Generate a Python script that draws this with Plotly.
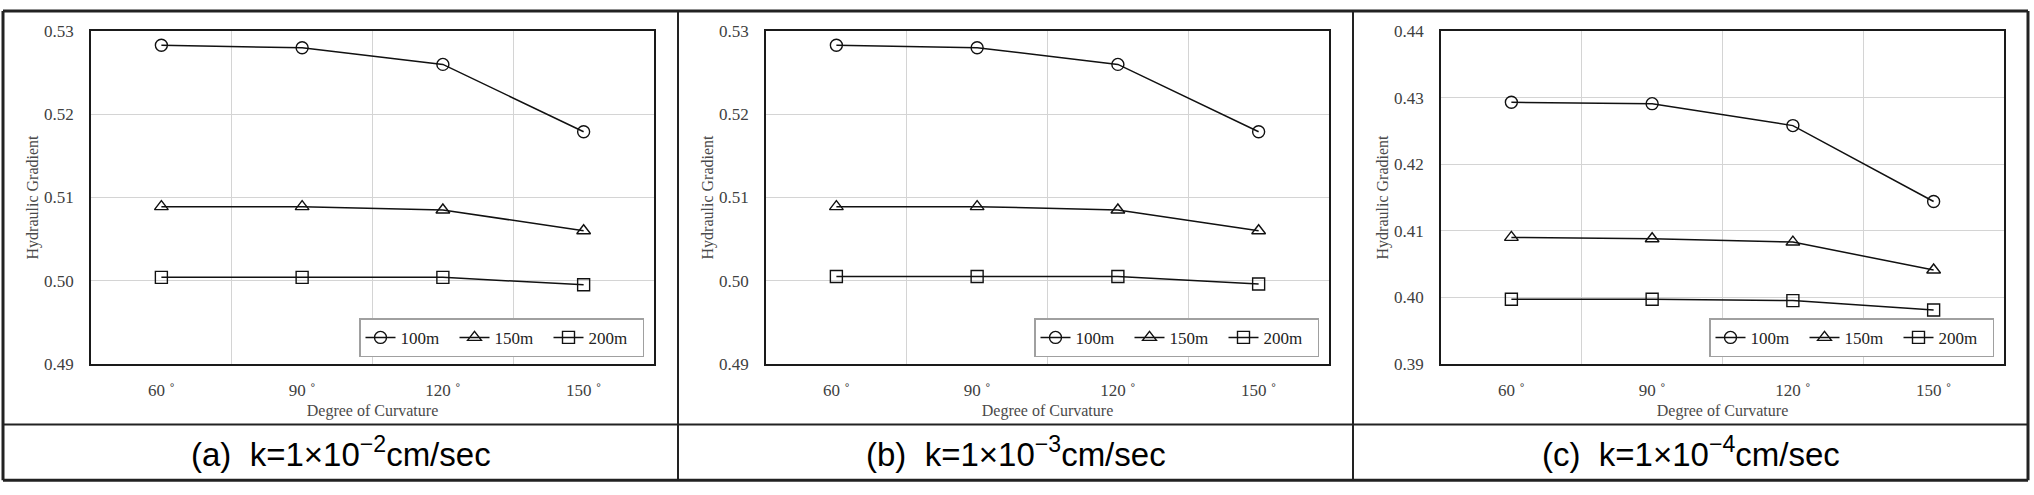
import plotly.graph_objects as go

W, H = 2034, 495

categories = ["60 ˚", "90 ˚", "120 ˚", "150 ˚"]
series_names = ["100m", "150m", "200m"]
symbols = ["circle-open", "triangle-up-open", "square-open"]

a_100 = [0.5283, 0.5280, 0.5260, 0.5179]
a_150 = [0.5089, 0.5089, 0.5085, 0.5060]
a_200 = [0.5004, 0.5004, 0.5004, 0.4995]

b_100 = [0.5283, 0.5280, 0.5260, 0.5179]
b_150 = [0.5089, 0.5089, 0.5085, 0.5060]
b_200 = [0.5005, 0.5005, 0.5005, 0.4996]

c_100 = [0.4293, 0.4291, 0.4258, 0.4144]
c_150 = [0.4090, 0.4088, 0.4083, 0.4041]
c_200 = [0.3997, 0.3997, 0.3995, 0.3981]

yticks_ab = [0.49, 0.50, 0.51, 0.52, 0.53]
yticks_c = [0.39, 0.40, 0.41, 0.42, 0.43, 0.44]

captions = ["(a)  k=1×10<sup>−2</sup>cm/sec",
            "(b)  k=1×10<sup>−3</sup>cm/sec",
            "(c)  k=1×10<sup>−4</sup>cm/sec"]

panels = [
    dict(series=[a_100, a_150, a_200], yticks=yticks_ab),
    dict(series=[b_100, b_150, b_200], yticks=yticks_ab),
    dict(series=[c_100, c_150, c_200], yticks=yticks_c),
]

# layout geometry (pixels)
panel_left = [3, 678, 1353]
panel_w = 675
plot_l_off, plot_r_off = 88, 24
plot_top, plot_bot = 23, 369
leg_right_off = 10
leg_mid = 342

SERIF = "Liberation Serif"
TXT = "#404040"

xpos = list(range(len(categories)))

fig = go.Figure()
layout = dict(width=W, height=H, margin=dict(l=0, r=0, t=0, b=0),
              paper_bgcolor="white", plot_bgcolor="white", showlegend=True)

shapes = []
annotations = []
for i, p in enumerate(panels):
    n = "" if i == 0 else str(i + 1)
    xa, ya = "x" + n, "y" + n
    leg = "legend" + n
    for s, name, sym in zip(p["series"], series_names, symbols):
        fig.add_trace(go.Scatter(
            x=xpos, y=s, name=name, mode="lines+markers",
            xaxis=xa, yaxis=ya, legend=leg,
            line=dict(color="#111111", width=1.5),
            marker=dict(symbol=sym, size=12, color="#111111",
                        line=dict(width=1.4, color="#111111")),
        ))
    x0 = (panel_left[i] + plot_l_off) / W
    x1 = (panel_left[i] + panel_w - plot_r_off) / W
    yd = [(H - plot_bot) / H, (H - plot_top) / H]
    layout["xaxis" + n] = dict(
        domain=[x0, x1], anchor=ya, range=[-0.5, len(categories) - 0.5],
        tickvals=xpos, ticktext=categories, showgrid=False, zeroline=False,
        showline=True, mirror=True, linecolor="#1a1a1a", linewidth=1.5,
        ticks="outside", ticklen=10, tickcolor="rgba(0,0,0,0)",
        tickfont=dict(family=SERIF, size=17, color=TXT),
        minor=dict(tick0=0.5, dtick=1, showgrid=True, gridcolor="#d4d4d4",
                   gridwidth=1, ticks=""),
        title=dict(text="Degree of Curvature", standoff=6,
                   font=dict(family=SERIF, size=16, color="#4a4a4a")),
    )
    layout["yaxis" + n] = dict(
        domain=yd, anchor=xa, range=[p["yticks"][0], p["yticks"][-1]],
        tickvals=p["yticks"], tickformat=".2f", showgrid=True,
        gridcolor="#d4d4d4", gridwidth=1, zeroline=False,
        showline=True, mirror=True, linecolor="#1a1a1a", linewidth=1.5,
        ticks="outside", ticklen=12, tickcolor="rgba(0,0,0,0)",
        tickfont=dict(family=SERIF, size=17, color=TXT),
        title=dict(text="Hydraulic Gradient", standoff=1,
                   font=dict(family=SERIF, size=16, color="#4a4a4a")),
    )
    layout[leg] = dict(
        orientation="h", xref="paper", yref="paper",
        x=(panel_left[i] + panel_w - plot_r_off - leg_right_off) / W,
        xanchor="right", y=(H - leg_mid) / H, yanchor="middle",
        bgcolor="white", bordercolor="#a0a0a0", borderwidth=1.5,
        font=dict(family=SERIF, size=17, color="#222222"),
        itemwidth=30, entrywidth=49, tracegroupgap=0,
    )
    annotations.append(dict(
        text=captions[i], xref="paper", yref="paper",
        x=(panel_left[i] + panel_w / 2) / W, y=(H - 461) / H,
        xanchor="center", yanchor="middle", showarrow=False,
        font=dict(family="Liberation Sans", size=33, color="black"),
    ))

# table frame
def px_line(xa0, ya0, xa1, ya1, w=2):
    shapes.append(dict(type="line", xref="paper", yref="paper",
                       x0=xa0 / W, y0=(H - ya0) / H, x1=xa1 / W, y1=(H - ya1) / H,
                       line=dict(color="#222222", width=w)))

px_line(3, 2, 2028, 2, 3)
px_line(3, 490, 2028, 490, 3)
px_line(3, 2, 3, 490, 3)
px_line(2028, 2, 2028, 490, 3)
px_line(678, 2, 678, 490, 2)
px_line(1353, 2, 1353, 490, 2)
px_line(3, 432, 2028, 432, 2)

layout["shapes"] = shapes
layout["annotations"] = annotations
fig.update_layout(**layout)
fig.write_html("out.html")
